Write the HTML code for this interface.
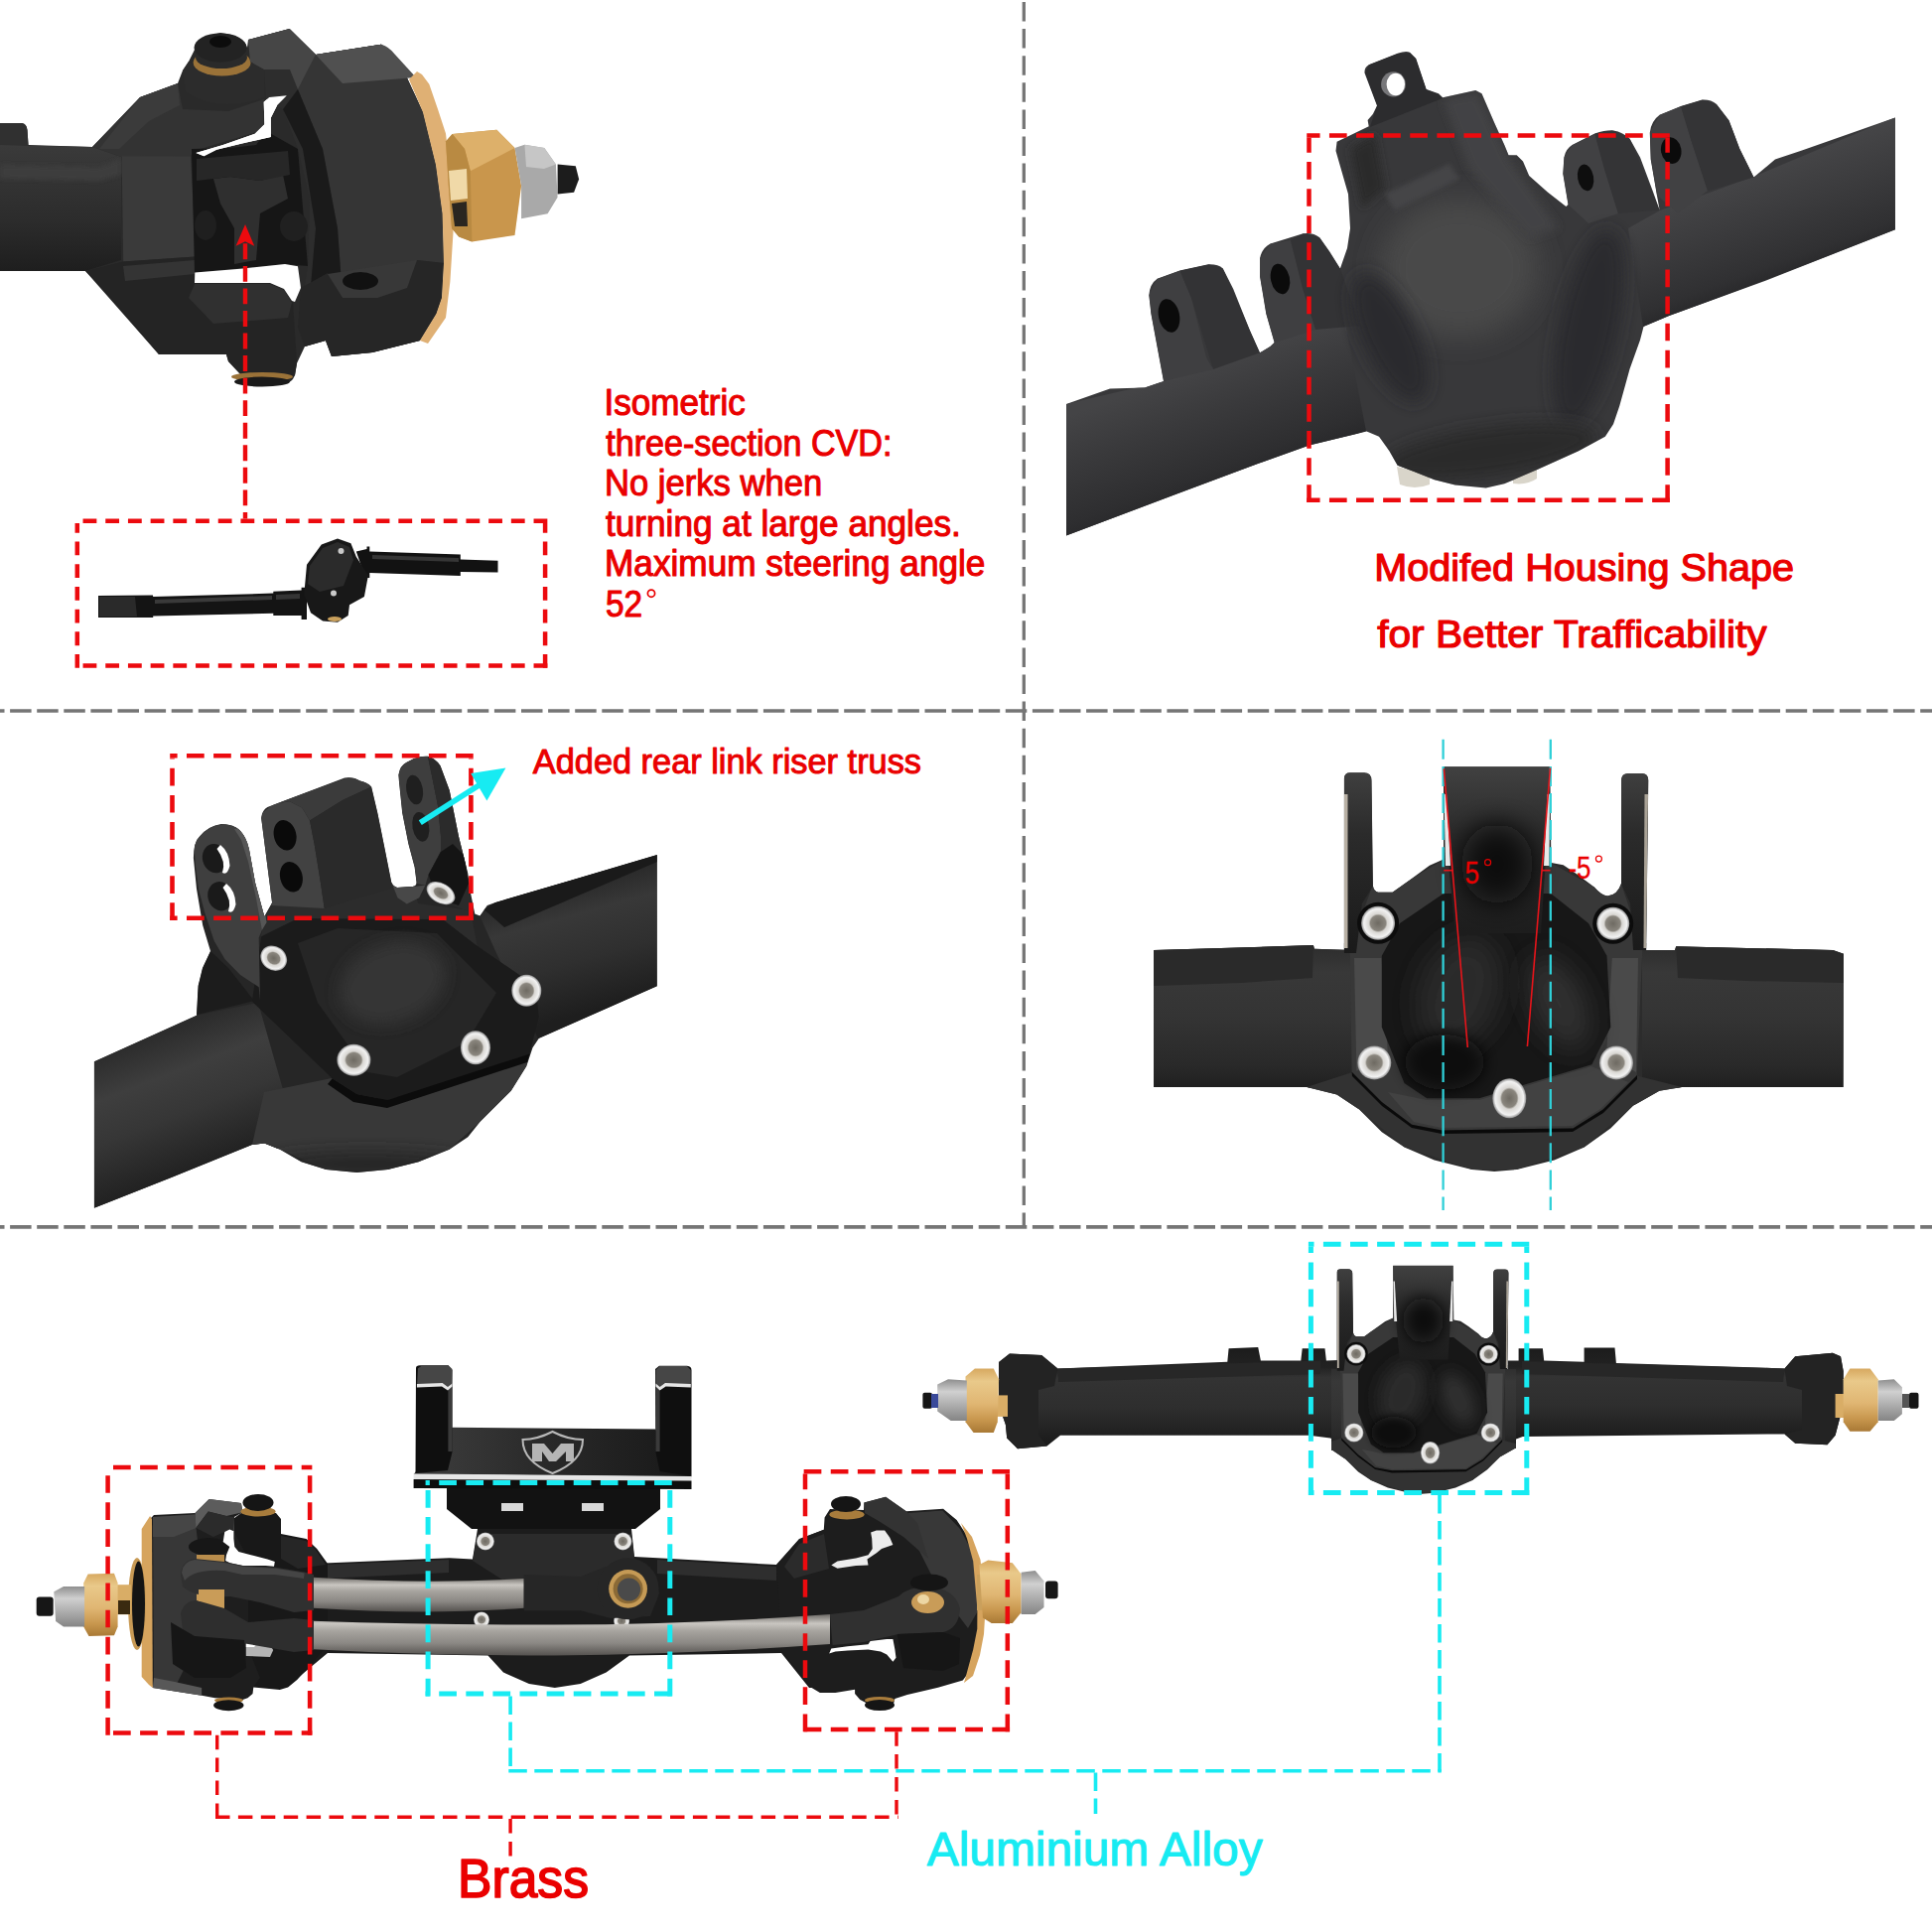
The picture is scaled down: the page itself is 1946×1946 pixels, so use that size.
<!DOCTYPE html>
<html><head><meta charset="utf-8"><title>axle</title>
<style>
html,body{margin:0;padding:0;background:#fff;}
body{width:1946px;height:1946px;overflow:hidden;font-family:"Liberation Sans",sans-serif;}
svg{display:block;}
text{font-family:"Liberation Sans",sans-serif;}
</style></head><body>
<svg width="1946" height="1946" viewBox="0 0 1946 1946">
<rect width="1946" height="1946" fill="#fff"/>

<defs>
<filter id="b2" x="-20%" y="-20%" width="140%" height="140%"><feGaussianBlur stdDeviation="2"/></filter>
<filter id="b4" x="-40%" y="-40%" width="180%" height="180%"><feGaussianBlur stdDeviation="4"/></filter>
<filter id="b8" x="-60%" y="-60%" width="220%" height="220%"><feGaussianBlur stdDeviation="8"/></filter>
<filter id="b14" x="-80%" y="-80%" width="260%" height="260%"><feGaussianBlur stdDeviation="14"/></filter>
<linearGradient id="brassV" x1="0" y1="0" x2="0" y2="1"><stop offset="0" stop-color="#e2b774"/><stop offset="0.5" stop-color="#cf9f58"/><stop offset="1" stop-color="#a97a3a"/></linearGradient>
<linearGradient id="tube1" x1="0" y1="0" x2="0" y2="1"><stop offset="0" stop-color="#3a3a3a"/><stop offset="0.25" stop-color="#343434"/><stop offset="0.6" stop-color="#2c2c2c"/><stop offset="1" stop-color="#1e1e1e"/></linearGradient>
</defs>

<g id="p1"><!-- main silhouette -->
<path d="M0 124 L22 124 Q27 125 27.5 131 L28.5 146 L93 148 L141 98 L179 84 L184 71 L190 62 L196 50 Q198 38 222 33 Q246 36 249 48 L250 40 L291.6 29 L318 55 L384 44.7 Q398 55 406 70 L426 113 L439 166 L445.6 215 L447 265 L445 300 L439.5 316 L423 343 L375 355 L334 359 L328 343 L307 349 L299 366 L297 378 Q294 386 286 386.5 L257 387.5 Q249 386 245 380 L230 364 L228 357 L160 357 L100 287 L86 273 L0 273 Z" fill="#2a2a2a"/>
<!-- tube -->
<path d="M0 146 L93 148 L122 158 L122 262 L86 273 L0 273 Z" fill="url(#tube1)"/>
<path d="M0 124 L22 124 Q27 125 27.5 131 L28.5 146 L0 146 Z" fill="#303030"/>
<path d="M0 166 L100 168 L122 160 L122 176 L100 182 L0 180 Z" fill="#3e3e3e" filter="url(#b2)"/>
<!-- c-hub upper arm -->
<path d="M93 148 L141 98 L179 84 L184 110 L230 112 L266 100 L265 131 L215 146 L195 152 L192 157 L122 158 Z" fill="#333333"/>
<path d="M141 98 L179 84 L181 106 L150 122 L120 150 L100 150 Z" fill="#3b3b3b"/>
<!-- c-hub face -->
<path d="M122.6 157.3 L192.1 157.3 L197 258.4 L124.2 263.4 Z" fill="#3a3a3a"/>
<!-- c-hub lower -->
<path d="M86 273 L124 263.4 L197 258.4 L196 285 L272 285 L286 291 L295 304 L299 366 L297 378 L286 386.5 L257 387.5 L245 380 L230 364 L228 357 L160 357 Z" fill="#242424"/>
<path d="M124 268 L196 262 L196 276 L126 283 Z" fill="#343434"/>
<path d="M196 286 L272 286 L286 292 L294 305 L290 320 L215 326 L190 300 Z" fill="#303030"/>
<!-- cvd interior dark -->
<path d="M193 150 L232 149 L258 146 L268 132 L300 150 L310 268 L287 266 L245 270 L196 274.5 Z" fill="#161616"/>
<path d="M215 180 L232 178 L262 182 L285 176 L290 200 L262 215 L258 262 L236 266 L236 230 L222 205 Z" fill="#2f2f2f"/>
<path d="M198 160 L290 152 L292 176 L262 182 L232 178 L198 182 Z" fill="#272727"/>
<ellipse cx="207" cy="227" rx="11" ry="15" fill="#1f1f1f"/><ellipse cx="296" cy="228" rx="14" ry="15" fill="#202020"/>
<!-- white gaps -->
<path d="M196.3 274.5 L245 270.4 L287 266 L300 268.3 L303 290 L297 304 L294 303 L286 291 L272 285 L196 285 Z" fill="#fff"/>
<path d="M197.4 154 L224.6 146 L256.7 134.8 L266.4 125.2 L265.7 102.7 L271.2 97.9 L288.8 96.3 L279.2 105.9 L272.8 118.7 L272.8 138 L243.9 144.4 L218.2 150.8 L205.4 157.2 Z" fill="#fff"/>
<!-- top boss -->
<path d="M184 71 L190 62 Q222 78 252 62 L266 70 L266.7 97.7 L258 101 Q215 112 187 92.8 Z" fill="#2c2c2c"/>
<ellipse cx="223.6" cy="63" rx="29" ry="13.5" fill="#9a7238"/>
<ellipse cx="223" cy="58" rx="26" ry="11" fill="#2a2a2a"/>
<ellipse cx="222" cy="48" rx="26.5" ry="14.5" fill="#232323"/>
<ellipse cx="222" cy="42" rx="11" ry="6" fill="#0c0c0c"/>
<!-- knuckle -->
<path d="M250 40 L291.6 29 L318 55 L384 44.7 Q398 55 406 70 L426 113 L439 166 L445.6 215 L447 265 L445 300 L439.5 316 L423 343 L375 355 L334 359 L328 343 L307 349 L300 330 L310 268 L312 200 L300 150 L285 110 L268 100 L266 70 L252 62 Z" fill="#2d2d2d"/>
<path d="M318 55 L384 44.7 Q398 55 406 70 L426 113 L439 166 L445.6 215 L447 265 L420 262 L380 300 L345 300 L340 230 L325 150 L300 90 Z" fill="#353535"/>
<path d="M250 40 L291.6 29 L318 55 L300 90 L292 70 L266 70 L252 62 Z" fill="#464646"/>
<path d="M318 55 L384 44.7 Q392 47 398 55 L419 78 L345 84 L330 68 Z" fill="#505050"/>
<path d="M300 90 L325 150 L340 230 L345 300 L335 318 L312 300 L318 230 L305 150 L285 110 Z" fill="#1a1a1a"/>
<path d="M307 349 L300 330 L303 290 L330 275 L345 300 L380 300 L420 262 L447 265 L445 300 L439.5 316 L423 343 L375 355 L334 359 L328 343 Z" fill="#262626"/>
<path d="M330 276 L420 262 L410 290 L380 300 L345 300 Z" fill="#383838"/>
<ellipse cx="363" cy="283" rx="18" ry="9" fill="#111"/>
<!-- brass plate -->
<path d="M420 72 L425 75 L432.3 84.8 L441 110 L449 134.5 L454.7 184.2 L456.5 233.9 L453.4 283.6 L449 320 L431 346 L423 343 L439.5 316 L445 300 L447 265 L445.6 215 L439 166 L426 113 L412 80 Z" fill="#dfb074"/>
<!-- hex nut -->
<path d="M449 142.4 L455.6 135 L500.3 130.8 L518.5 149 L525.1 187.2 L518.5 236.9 L475.4 243.5 L462.2 238.5 L455 230 L452 190 Z" fill="#c9964c"/>
<path d="M455.6 135 L500.3 130.8 L518.5 149 L473.8 172.3 L468 150 Z" fill="#ddb06a"/>
<path d="M449 142.4 L455.6 135 L468 150 L473.8 172.3 L475.4 243.5 L462.2 238.5 L455 230 L452 190 Z" fill="#b98a42"/>
<path d="M452 172 L470 170 L471 200 L454 202 Z" fill="#f0d9a8"/>
<path d="M455 205 L470 203 L471 228 L458 228 Z" fill="#2a2620"/>
<!-- lock nut -->
<path d="M518.5 149 L528.4 145.8 L548.3 149 L559.9 165.6 L561.6 198.8 L551.6 215.3 L525.1 220.3 L525.1 187.2 Z" fill="#a9a9a9"/>
<path d="M528.4 145.8 L548.3 149 L559.9 165.6 L548 170 L530 168 Z" fill="#c6c6c6"/>
<path d="M561.6 165.6 L579.8 167.3 L583.1 180.5 L578.1 193.8 L561.6 195.4 Z" fill="#1c1c1c"/>
<!-- gap redraw + bottom screw -->
<path d="M197.4 154 L224.6 146 L256.7 134.8 L266.4 125.2 L265.7 102.7 L271.2 97.9 L288.8 96.3 L279.2 105.9 L272.8 118.7 L272.8 138 L243.9 144.4 L218.2 150.8 L205.4 157.2 Z" fill="#fff"/>
<ellipse cx="264" cy="379.5" rx="31" ry="4.5" fill="#9a7238"/><ellipse cx="264" cy="384.5" rx="28" ry="5" fill="#1a1a1a"/>
<!-- CVD shaft -->
<g>
<path d="M99 600 L154 599.5 L154.2 601 L275.3 597.6 L275.3 595.7 L303.6 594.4 L303.6 591.7 L309 591.7 L309 624 L303.6 624 L303.6 620 L275.3 620 L275.3 617.8 L154.2 620.5 L154.2 622.1 L99 622.1 Z" fill="#141414"/>
<path d="M100 601 L136 601 L138 621 L100 621 Z" fill="#2a2a2a"/>
<path d="M156 604 L274 600 L274 604 L156 608 Z" fill="#3a3a3a"/>
<path d="M278 599 L302 598 L302 603 L278 604 Z" fill="#353535"/>
<path d="M358.8 555.4 L369.5 553 L369.5 550.5 L372.3 550.5 L372.3 555.4 L463.8 558.6 L463.8 563.4 L501.5 564.8 L501.5 576.4 L463.8 576.1 L463.8 580.1 L372.3 576.9 L372.3 582 L368 582 Z" fill="#121212"/>
<path d="M375 559 L462 562 L462 566 L375 563 Z" fill="#363636"/>
<path d="M309 568.8 L323.8 548.6 L340 542.4 L353.4 547.3 L358.8 560.8 L370.9 579.6 L366.9 601.1 L352 609.2 L350.7 620 L340 626.7 L325.1 625.4 L313 617.3 L306.3 598.4 Z" fill="#181818"/>
<path d="M312 570 L325 552 L340 546 L352 551 L356 564 L346 590 L322 596 L310 588 Z" fill="#2b2b2b"/>
<circle cx="343.5" cy="555" r="3" fill="#c9c9c9"/><circle cx="336" cy="597.5" r="3" fill="#c9c9c9"/>
<ellipse cx="337" cy="623.5" rx="7" ry="2.5" fill="#c9a05c"/>
</g>
</g>
<g id="p2"><defs>
<clipPath id="p2clip"><path id="p2sil" d="M1074 407 L1118 391.5 L1153 390.5 L1172 384 L1159.4 316 L1157.3 297.3 Q1158 286 1165.6 280.7 L1188.4 272.5 L1217.3 266.3 Q1227 266 1231.8 270.4 L1242.2 291 L1258.8 332.5 L1269 355.3 L1279.5 349 L1283.6 345 L1275.3 316 L1269.1 278.7 L1269.1 260 Q1271 250 1279.5 245.5 L1312.6 235.2 Q1323 234 1329.2 239.3 L1339.5 253.8 L1349.9 270.4 L1357 250 L1360 230 L1358 195.6 L1345.5 152 L1346.6 142.8 L1378.7 127.3 L1377.6 121 L1382.8 115 L1387 106.6 L1374.5 73.5 Q1374 68 1378.7 65.2 L1407.7 53.8 Q1416 51 1420 52.8 L1426.3 59 L1436.6 90 L1449 94.2 L1453.2 98.3 L1486.3 91.1 L1492.5 94.2 L1505 123.2 L1515.3 146 L1519.5 156.3 L1527.7 156.3 L1534 162.5 L1540.2 177 L1558.8 193.6 L1577.4 208 L1579.5 206 L1574.3 175 L1575.4 158.4 Q1577 150 1583.6 146 L1606.4 134.6 Q1617 131 1625 131.4 Q1635 133 1641.6 139.7 L1652 158.4 L1664.4 191.5 L1671.6 211.6 L1668.9 196.4 L1662.7 160.6 L1661.8 133.7 Q1663 122 1671.6 115.8 L1693 107 L1714.6 100.6 Q1723 100 1729 105 L1741.5 121.2 L1752.2 149.8 L1766.5 178.5 L1788 160.6 L1815 151.6 L1908.9 118.5 L1908.9 231.3 L1779 282.4 L1680.6 318.2 L1655.5 329 L1652 342.4 L1641.6 371.4 L1631.3 408.7 L1625 427.3 L1616.8 439.7 L1589.9 454.2 L1548.4 472.9 L1515.3 487.3 L1496.7 491.5 L1465.6 488.4 L1444.9 483.2 L1424.2 474.9 L1407.7 468.7 L1399.4 454.2 L1389 439.7 L1376.6 434.6 L1318.8 448.4 L1267 467 L1184 498 L1074 539.5 Z"/></clipPath>
<linearGradient id="p2tl" gradientUnits="userSpaceOnUse" x1="1180" y1="380" x2="1225" y2="500"><stop offset="0" stop-color="#444446"/><stop offset="0.35" stop-color="#3a3a3c"/><stop offset="0.8" stop-color="#2e2e30"/><stop offset="1" stop-color="#262628"/></linearGradient>
<linearGradient id="p2tr" gradientUnits="userSpaceOnUse" x1="1760" y1="170" x2="1800" y2="280"><stop offset="0" stop-color="#464648"/><stop offset="0.4" stop-color="#3c3c3e"/><stop offset="0.85" stop-color="#303032"/><stop offset="1" stop-color="#28282a"/></linearGradient>
</defs>
<!-- bolts under -->
<path d="M1407 470 L1440 478 L1440 488 Q1425 494 1410 488 Z" fill="#d9d5ca"/>
<path d="M1524 477 L1548 470 L1548 482 Q1538 489 1524 487 Z" fill="#d9d5ca"/>
<use href="#p2sil" fill="#38383a"/>
<g clip-path="url(#p2clip)">
<!-- left tube -->
<path d="M1074 407 L1172 384 L1269 355 L1350 300 L1376 434 L1074 540 Z" fill="url(#p2tl)"/>
<!-- right tube -->
<path d="M1766 178 L1909 118 L1909 232 L1655 329 L1640 230 L1672 212 Z" fill="url(#p2tr)"/>
<!-- lugs front faces lighter -->
<path d="M1172 384 L1159.4 316 L1157.3 297.3 L1165.6 280.7 L1188.4 272.5 L1200 300 L1215 360 L1222 372 Z" fill="#3f3f41"/>
<path d="M1283.6 345 L1275.3 316 L1269.1 278.7 L1269.1 260 L1279.5 245.5 L1300 242 L1312 290 L1325 332 Z" fill="#3f3f41"/>
<path d="M1188.4 272.5 L1217.3 266.3 L1231.8 270.4 L1269 355.3 L1222 372 L1200 300 Z" fill="#333335"/>
<path d="M1300 242 L1312.6 235.2 L1329.2 239.3 L1349.9 270.4 L1370 328 L1325 332 L1312 290 Z" fill="#333335"/>
<ellipse cx="1177.5" cy="318" rx="10.5" ry="17" transform="rotate(-12 1177.5 318)" fill="#0b0b0b"/>
<ellipse cx="1289.5" cy="281" rx="9.5" ry="15.5" transform="rotate(-12 1289.5 281)" fill="#0b0b0b"/>
<path d="M1579.5 206 L1574.3 175 L1575.4 158.4 L1583.6 146 L1606.4 134.6 L1616 170 L1630 215 L1600 225 Z" fill="#414143"/>
<path d="M1606.4 134.6 L1625 131.4 L1641.6 139.7 L1671.6 211.6 L1630 215 L1616 170 Z" fill="#343436"/>
<path d="M1668.9 196.4 L1662.7 160.6 L1661.8 133.7 L1671.6 115.8 L1693 107 L1703 140 L1720 192 L1690 215 Z" fill="#414143"/>
<path d="M1693 107 L1714.6 100.6 L1729 105 L1741.5 121.2 L1766.5 178.5 L1720 192 L1703 140 Z" fill="#343436"/>
<ellipse cx="1597.1" cy="179" rx="8" ry="13.5" transform="rotate(-10 1597 179)" fill="#0e0e0e"/>
<ellipse cx="1683.3" cy="151.6" rx="10.2" ry="13.4" transform="rotate(-10 1683 152)" fill="#0b0b0b"/>
<!-- housing ball shading -->
<ellipse cx="1470" cy="270" rx="80" ry="70" fill="#48484a" filter="url(#b14)"/>
<ellipse cx="1400" cy="340" rx="28" ry="70" fill="#2b2b2d" filter="url(#b8)" transform="rotate(-25 1400 340)"/>
<ellipse cx="1600" cy="330" rx="30" ry="100" fill="#2c2c2e" filter="url(#b8)" transform="rotate(12 1600 330)"/>
<ellipse cx="1500" cy="455" rx="110" ry="25" fill="#2a2a2c" filter="url(#b8)" transform="rotate(-8 1500 455)"/>
<path d="M1360 150 L1385 135 L1395 190 L1372 210 Z" fill="#2a2a2c" filter="url(#b4)"/>
<path d="M1395 195 L1460 165 L1470 180 L1405 212 Z" fill="#454547" filter="url(#b2)"/>
<path d="M1453 100 L1488 93 L1520 160 L1570 230 L1540 240 L1480 170 Z" fill="#424244" filter="url(#b4)"/>
<path d="M1387 106 L1375 73 L1379 65 L1408 54 L1420 53 L1426 59 L1437 90 L1449 95 L1453 99 L1380 128 Z" fill="#2c2c2e"/>
</g>
<ellipse cx="1403.5" cy="84.9" rx="12.4" ry="12.6" fill="#77777a"/>
<ellipse cx="1405.8" cy="85" rx="9.2" ry="11.2" fill="#fff"/>
</g>
<g id="p3"><defs>
<clipPath id="p3clip"><path id="p3sil" d="M94.9 1069.3 L198 1022.7 L199.6 993 L204 975 L212 958 L204.2 932 L198 895.3 L194.9 864.2 Q195 848 201.1 842.5 Q210 832 222.9 830.1 Q235 830 241.5 836.3 Q248 843 250.8 854.9 L257 889.1 L266.3 923.2 L274.1 909.3 L263.2 823.9 Q264 816 269.4 813 L347.1 783.5 Q356 782 362.6 786.6 Q370 788 374.1 792.4 L380.3 818.8 L388.1 857.6 L394.3 888.7 Q396 893 400 894 L416 893 Q420 892 419.5 888 L417.6 873.2 L411.4 849.9 L405.2 818.8 L402 787.8 L401.4 780.4 Q403 771 409.2 768 Q420 761 430.9 761.7 Q439 764 443.4 771.1 L452.7 795.9 L462 842.5 L471.3 879.8 L473.2 895.5 L478.3 920.4 L483.5 922.5 L487.7 916.3 L490.8 912.1 L499 909 L580 885.2 L661.7 861 L661.7 993.2 L542.7 1046 L536.5 1055.3 L530.3 1073.9 L514.8 1098.8 L483.7 1129.8 L471.3 1145.3 L452.7 1157.8 L421.6 1170.2 L390.6 1178 L359.5 1181.1 L328.4 1178 L303.6 1170.2 L281.9 1157.8 L266.3 1151.6 L253.9 1153.1 L173.2 1185.7 L94.9 1216.8 Z"/></clipPath>
<linearGradient id="p3tl" gradientUnits="userSpaceOnUse" x1="150" y1="1045" x2="200" y2="1175"><stop offset="0" stop-color="#2c2c2c"/><stop offset="0.3" stop-color="#3e3e3e"/><stop offset="0.6" stop-color="#363636"/><stop offset="1" stop-color="#222"/></linearGradient>
<linearGradient id="p3tr" gradientUnits="userSpaceOnUse" x1="590" y1="885" x2="625" y2="1010"><stop offset="0" stop-color="#282828"/><stop offset="0.25" stop-color="#383838"/><stop offset="0.6" stop-color="#2f2f2f"/><stop offset="1" stop-color="#1e1e1e"/></linearGradient>
<radialGradient id="bolt"><stop offset="0" stop-color="#6e6a62"/><stop offset="0.45" stop-color="#8a867e"/><stop offset="0.55" stop-color="#d8d6d2"/><stop offset="0.85" stop-color="#f2f2f2"/><stop offset="1" stop-color="#8d8d8d"/></radialGradient>
</defs>
<use href="#p3sil" fill="#262626"/>
<g clip-path="url(#p3clip)">
<path d="M94.9 1069.3 L198 1022.7 L260 1010 L300 1150 L94.9 1217 Z" fill="url(#p3tl)"/>
<path d="M483 922 L499 909 L662 861 L662 994 L542 1046 L500 960 Z" fill="url(#p3tr)"/>
<path d="M487.7 916.3 L499 909 L662 861 L662 868 L508 934 Z" fill="#1a1a1a"/>
<!-- housing lower ball -->
<path d="M253.9 1153.1 L266 1100 L334 1086 L390 1110 L533 1062 L530 1074 L514.8 1098.8 L483.7 1129.8 L452.7 1157.8 L390.6 1178 L328.4 1178 L281.9 1157.8 Z" fill="#383838"/>
<ellipse cx="370" cy="1172" rx="100" ry="12" fill="#262626" filter="url(#b8)"/>
<!-- housing back -->
<path d="M198 1022 L199.6 993 L204 975 L212 958 L230 975 L256 1008 L240 1012 Z" fill="#1c1c1c"/>
<!-- cover plate -->
<path d="M263.2 943.5 L300 925 L446 926 L480.6 952.8 L539.6 993.2 L542.7 1024.2 L533.4 1061.5 L421.6 1098.8 L390.6 1108 L359.5 1101.9 L334.7 1086.3 L253.9 1008.7 Z" fill="#1b1b1b"/>
<path d="M300 950 L340 935 L440 940 L500 1000 L470 1050 L400 1085 L370 1080 L320 1010 Z" fill="#262626"/>
<ellipse cx="395" cy="990" rx="55" ry="40" fill="#353535" filter="url(#b8)" transform="rotate(-20 395 990)"/>
<path d="M334.7 1086.3 L359.5 1101.9 L390.6 1108 L533.4 1061.5 L531 1070 L390 1116 L356 1110 L330 1092 Z" fill="#0c0c0c"/>
<!-- truss base -->
<path d="M266 923 L274 909 L328 914 L400 889 L417 892 L421 910 L474 917 L480.6 952.8 L446 926 L300 925 L263 943 Z" fill="#2c2c2c"/>
<!-- left tab -->
<path d="M195.5 853 L198.6 842.1 L211.1 832.8 L226.6 829.7 L240.6 834.3 L249.9 846.8 L256.1 867 L262.3 898 L267 919.8 L268.5 929 L263.9 936.8 L260.7 944.6 L262 1008 L260.7 994.3 L242.1 981.9 L226.6 966.3 L215.7 947.7 L206.4 919.8 L200.2 896.5 L197.1 873.2 Z" fill="#3f3f3f"/>
<path d="M240.6 834.3 L249.9 846.8 L256.1 867 L262.3 898 L267 919.8 L268.5 929 L263.9 936.8 L258 905 L250 868 L243 846 L236 835 Z" fill="#565656"/>
<!-- center block -->
<path d="M260.7 831.2 L263.9 818.8 L276.3 809.5 L291.8 807.2 L304.2 813.4 L312 826.6 L316.6 849.9 L322.9 888.7 L326.7 915.1 L273.2 912 L268.5 888.7 L263.9 857.6 Z" fill="#424242"/>
<path d="M276.3 809.5 L350.8 783.1 L363.2 783.9 L374.1 792.4 L345 806 L312 826.6 L304.2 813.4 L291.8 807.2 Z" fill="#3b3b3b"/>
<path d="M312 826.6 L345 806 L374.1 792.4 L380.3 818.8 L388.1 857.6 L394.3 888.7 L399.9 893 L326.7 915.1 L322.9 888.7 L316.6 849.9 Z" fill="#2a2a2a"/>
<!-- right tab -->
<path d="M401.4 780.4 Q403 771 409.2 768 Q420 761 430.9 761.7 L434.7 780 L440.9 811 L444 842.1 L444 857.6 L431.6 880.9 L428.4 891.8 L419.5 890 L417.6 873.2 L411.4 849.9 L405.2 818.8 L402 787.8 Z" fill="#3e3e3e"/>
<path d="M394.3 888.7 L400 894 L416 893 L428.4 891.8 L422.2 904.2 L409.8 910.4 L400.5 904.2 Z" fill="#484848"/>
<path d="M430.9 761.7 Q439 764 443.4 771.1 L453.3 780 L459.5 811 L467.3 857.6 L471.9 888.7 L475 919.8 L478 921 L440 905 L431.6 880.9 L444 857.6 L444 842.1 L440.9 811 L434.7 780 Z" fill="#2b2b2b"/>
<path d="M444 858 L456 850 L468 862 L472 890 L462 912 L440 905 L431.6 880.9 Z" fill="#141414"/>
</g>
<!-- holes -->
<ellipse cx="216.5" cy="864.6" rx="12.5" ry="14.8" transform="rotate(-15 216.5 864.6)" fill="#1a1a1a"/><path d="M222 851 Q231 858 231.5 872 Q229 882 224 879 Q228 868 218.5 855 Z" fill="#fff"/>
<ellipse cx="221.9" cy="902.7" rx="12.5" ry="14.8" transform="rotate(-15 221.9 902.7)" fill="#1a1a1a"/><path d="M228 890 Q237 897 237.5 911 Q235 921 230 918 Q234 907 224.5 894 Z" fill="#fff"/>
<ellipse cx="287.1" cy="841.3" rx="11.2" ry="15.5" transform="rotate(-14 287.1 841.3)" fill="#0a0a0a"/>
<ellipse cx="293.4" cy="883.3" rx="11.2" ry="15.5" transform="rotate(-14 293.4 883.3)" fill="#0a0a0a"/>
<ellipse cx="417.6" cy="795.5" rx="8.3" ry="15" transform="rotate(-10 417.6 795.5)" fill="#1f1f1f"/>
<ellipse cx="423.8" cy="832.8" rx="8.3" ry="15" transform="rotate(-10 423.8 832.8)" fill="#1f1f1f"/>
<!-- bolts -->
<ellipse cx="444" cy="899.6" rx="15.5" ry="10" transform="rotate(30 444 899.6)" fill="url(#bolt)"/>
<ellipse cx="275.7" cy="965.2" rx="14" ry="12" transform="rotate(35 275.7 965.2)" fill="url(#bolt)"/>
<ellipse cx="530.3" cy="997.8" rx="15" ry="16" fill="url(#bolt)"/>
<ellipse cx="479" cy="1055.3" rx="15" ry="17" fill="url(#bolt)"/>
<ellipse cx="356.4" cy="1067.7" rx="17" ry="16" fill="url(#bolt)"/>
</g>
<g id="p4"><defs>
<clipPath id="p4clip"><path id="p4sil" d="M1162 957 L1322.9 952.1 L1323.9 955.7 L1353.9 956.7 L1353.9 784 Q1354 778.2 1360 778.2 L1374 778.2 Q1381.5 778.5 1381.5 786 L1382.9 892.5 Q1384 898 1388.1 898.7 L1402.6 898.7 L1417.1 888.4 L1439.9 871.8 L1454 865.6 L1454 772.2 L1561.3 772.2 L1562.4 869.1 L1574.6 871.3 L1588 880.2 L1605.8 893.5 Q1613 902 1619.2 902.4 Q1629 902 1633 890 L1633 786 Q1633 779 1640 778.9 L1654 778.9 Q1660.3 779 1660.3 786 L1658.1 957 L1687 957 L1688.2 953.2 L1846.2 957 L1856.9 960.8 L1856.6 1094.9 L1694.1 1094.9 L1671.4 1098.7 L1645 1113.8 L1622.3 1136.5 L1595.8 1155.4 L1565.6 1168.6 L1527.8 1178 L1505.2 1180 L1482.5 1178 L1444.7 1168.6 L1414.5 1155.4 L1391.8 1140.3 L1369.1 1117.6 L1346.5 1102.5 L1316.3 1094.9 L1162.1 1094.9 Z"/></clipPath>
<linearGradient id="p4t" x1="0" y1="0" x2="0" y2="1"><stop offset="0" stop-color="#2c2c2c"/><stop offset="0.2" stop-color="#383838"/><stop offset="0.5" stop-color="#343434"/><stop offset="0.85" stop-color="#292929"/><stop offset="1" stop-color="#1f1f1f"/></linearGradient>
<linearGradient id="p4tab" gradientUnits="userSpaceOnUse" x1="0" y1="775" x2="0" y2="960"><stop offset="0" stop-color="#404040"/><stop offset="0.35" stop-color="#2b2b2b"/><stop offset="1" stop-color="#1a1a1a"/></linearGradient>
</defs>
<use href="#p4sil" fill="#2c2c2c"/>
<g clip-path="url(#p4clip)">
<rect x="1162" y="950" width="200" height="146" fill="url(#p4t)"/>
<rect x="1654" y="950" width="204" height="146" fill="url(#p4t)"/>
<path d="M1162 957 L1322.9 952.1 L1322 985 L1250 990 L1162 993 Z" fill="#2a2a2a"/>
<path d="M1688.2 953.2 L1846.2 957 L1856.9 960.8 L1857 990 L1760 988 L1690 985 Z" fill="#2a2a2a"/>
<!-- lower housing -->
<path d="M1316 1095 L1362 1080 L1392 1110 L1422 1133 L1452 1138.4 L1584.5 1136.5 L1614.7 1117.6 L1648.8 1083.6 L1694 1095 L1645 1113.8 L1595.8 1155.4 L1527.8 1178 L1482.5 1178 L1414.5 1155.4 L1369.1 1117.6 Z" fill="#323232"/>
<!-- cover flange -->
<path d="M1359.7 955 L1361.6 1079.8 L1391.8 1110 L1422 1132.7 L1452.3 1138.4 L1584.5 1136.5 L1614.7 1117.6 L1648.8 1083.6 L1654.4 955 L1633 890 L1605 893 L1562 869 L1454 866 L1417 888 L1382 893 Z" fill="#383838"/>
<path d="M1362 1084 L1392 1114 L1422 1136 L1452 1142 L1584 1140 L1615 1121 L1649 1087 L1649 1083 L1614.7 1117.6 L1584.5 1136.5 L1452.3 1138.4 L1422 1132.7 L1391.8 1110 L1361.6 1079.8 Z" fill="#0a0a0a"/>
<path d="M1364 965 L1391.5 965 L1398 1063 L1366.4 1078.8 Z" fill="#4a4a4a"/><path d="M1623.8 965 L1650 965 L1648 1080 L1618 1063 Z" fill="#4a4a4a"/><path d="M1398 1100 L1437 1108 L1490 1108 L1603 1074 L1640 1090 L1612 1117 L1584 1134 L1452 1136 L1424 1130 Z" fill="#424242"/>
<!-- dome -->
<path d="M1391.8 962.7 L1391.8 1034.5 L1414.5 1091.1 L1437.2 1106.3 L1490 1106.3 L1603.4 1072.2 L1622.3 1034.5 L1618.5 962.7 L1600 930 L1562 900 L1454 900 L1410 930 Z" fill="#171717"/>
<ellipse cx="1470" cy="1000" rx="40" ry="60" fill="#2c2c2c" filter="url(#b14)" transform="rotate(20 1470 1000)"/>
<ellipse cx="1570" cy="1010" rx="25" ry="50" fill="#303030" filter="url(#b14)" transform="rotate(-25 1570 1010)"/>
<ellipse cx="1455" cy="1070" rx="40" ry="28" fill="#0d0d0d" filter="url(#b8)"/>
<!-- tabs -->
<path d="M1353.9 784 Q1354 778.2 1360 778.2 L1374 778.2 Q1381.5 778.5 1381.5 786 L1382.9 892.5 L1372 910 L1366 960 L1353.9 960 Z" fill="url(#p4tab)"/>
<path d="M1353.9 800 L1357.5 800 L1357.5 955 L1353.9 955 Z" fill="#b8b0a4"/>
<path d="M1633 786 Q1633 779 1640 778.9 L1654 778.9 Q1660.3 779 1660.3 786 L1658.1 957 L1645 957 L1642 910 L1633 890 Z" fill="url(#p4tab)"/>
<path d="M1656.5 800 L1660 800 L1658.5 955 L1655.5 955 Z" fill="#a9a296"/>
<!-- center block -->
<path d="M1454 772.2 L1561.3 772.2 L1556 880 L1552 940 L1466 940 L1460 880 Z" fill="url(#p4tab)"/>

<ellipse cx="1508" cy="870" rx="36" ry="40" fill="#101010" filter="url(#b14)"/>
</g>
<!-- white slivers -->
<path d="M1454.5 800 L1457 800 L1461 872 L1456 872 Z" fill="#e8e8e8"/>
<path d="M1561 800 L1558.5 800 L1555 872 L1560.5 872 Z" fill="#e8e8e8"/>
<!-- bolts -->
<circle cx="1388.1" cy="929.8" r="21" fill="#0c0c0c"/><circle cx="1624.7" cy="930.3" r="20.5" fill="#0c0c0c"/>
<circle cx="1388.1" cy="929.8" r="17" fill="url(#bolt)"/><circle cx="1624.7" cy="930.3" r="16.5" fill="url(#bolt)"/>
<circle cx="1384.3" cy="1070.4" r="17" fill="url(#bolt)"/><circle cx="1628" cy="1070.4" r="17" fill="url(#bolt)"/>
<ellipse cx="1520.3" cy="1106.3" rx="17" ry="20" fill="url(#bolt)"/>
</g>
<g id="p5"><defs>
<linearGradient id="steel" x1="0" y1="0" x2="0" y2="1"><stop offset="0" stop-color="#6d6a66"/><stop offset="0.22" stop-color="#c9c6c1"/><stop offset="0.4" stop-color="#a7a49f"/><stop offset="0.7" stop-color="#8b8884"/><stop offset="1" stop-color="#55524f"/></linearGradient>
<linearGradient id="plate" x1="0" y1="0" x2="1" y2="0"><stop offset="0" stop-color="#3e3e3e"/><stop offset="0.45" stop-color="#2a2a2a"/><stop offset="1" stop-color="#181818"/></linearGradient>
</defs>
<!-- axle tube behind -->
<path d="M300 1580 L326 1574.5 L452.7 1569.3 L476 1570.6 L481 1540 L636 1540 L639 1568 L662.3 1569.3 L782 1576 L805 1550 L830 1540.7 L840 1700 L815 1700 L787 1665 L634 1667.6 L610.6 1684.5 L584.7 1696.1 L558.8 1700 L532.9 1696.1 L507 1684.5 L491.5 1667.6 L330 1665 L300 1690 Z" fill="#1c1c1c"/>
<path d="M326 1576 L452 1571 L452 1584 L326 1590 Z" fill="#2e2e2e"/>
<path d="M662 1571 L782 1578 L782 1592 L662 1585 Z" fill="#2e2e2e"/>
<path d="M481 1545 L636 1545 L639 1570 L600 1600 L520 1600 L476 1572 Z" fill="#2b2b2b"/>
<!-- servo mount under -->
<path d="M450 1495 L665 1495 L665 1520 L640 1540 L475 1540 L450 1520 Z" fill="#121212"/>
<rect x="505" y="1514" width="22" height="8" fill="#d8d8d8"/><rect x="586" y="1514" width="22" height="8" fill="#d8d8d8"/>
<!-- plate -->
<path d="M455.5 1437.8 L660 1439.5 L696.5 1487.5 L416.6 1485 Z" fill="url(#plate)"/>
<path d="M416.6 1484.5 L696.5 1487 L696.5 1491.5 L416.6 1490 Z" fill="#e6e6e6"/>
<path d="M416.6 1490 L696.5 1491.5 L696.5 1500 L416.6 1499 Z" fill="#0e0e0e"/>
<!-- posts -->
<path d="M419 1378 Q419 1375.2 423 1375.2 L451.3 1375.2 L455.5 1379.9 L455.5 1462.7 L451 1481 L418.5 1484 Z" fill="#0f0f0f"/>
<path d="M421 1378.3 L425.7 1375 L451.4 1375 L455.5 1379.1 L455 1394 L451 1398 L445.6 1394.4 L420 1395.2 Z" fill="#464646"/><path d="M451.4 1398 L455.5 1394 L455.5 1462 L451.4 1462 Z" fill="#3a3a3a"/>
<path d="M419.9 1394 L445.6 1393 L451 1397 L455.5 1393.5 L455.5 1396.5 L451 1400.5 L445 1396.5 L419.9 1397.5 Z" fill="#e6e6e6"/>
<path d="M660 1379 L664 1375.7 L692 1375.7 Q696.5 1376 696.5 1380 L696.5 1487 L664.6 1482 L660.5 1462.7 Z" fill="#0f0f0f"/>
<path d="M660.5 1380 L664.5 1376 L692 1376 L695.8 1380 L695.8 1395 L670 1394.4 L664.6 1398 L660.5 1394 Z" fill="#464646"/><path d="M660.5 1394 L664.6 1398 L664.6 1462 L660.5 1462 Z" fill="#3a3a3a"/>
<path d="M660.5 1393.5 L664.6 1397 L670 1393 L695.8 1394 L695.8 1397.5 L670.6 1396.5 L664.6 1400.5 L660.5 1396.5 Z" fill="#e6e6e6"/>
<!-- logo -->
<path d="M526.5 1450 Q541 1450 556.5 1442 Q572 1450 587 1450 Q587 1472 556.5 1484 Q526.5 1472 526.5 1450 Z" fill="none" stroke="#b9b9b9" stroke-width="2"/>
<path d="M536 1472 L536 1454 L548 1454 L556.5 1464 L565 1454 L578 1454 L578 1472 L570 1472 L570 1462 L560 1472 L553 1472 L546 1462 L546 1472 Z" fill="#b5b5b5"/>
<!-- bolts center -->
<circle cx="488.9" cy="1552.5" r="9" fill="url(#bolt)"/><circle cx="627.4" cy="1552.5" r="9" fill="url(#bolt)"/>
<circle cx="485" cy="1631.4" r="8" fill="url(#bolt)"/><circle cx="626.1" cy="1632.7" r="8" fill="url(#bolt)"/>

<!-- LEFT KNUCKLE -->
<!-- c-hub -->
<path d="M235.4 1542 L236 1529 L243 1524 L278 1524 L283 1530 L283 1545 L308.6 1550 L319.2 1560 L330 1575 L330 1660 L324.9 1663.1 L310.8 1679.6 L299.2 1692 L290.1 1699.5 L281.8 1702 L255.3 1699.5 L240 1690 L236 1600 Z" fill="#181818"/>
<path d="M283 1547 L308 1552 L318 1561 L328 1576 L300 1580 L283 1570 Z" fill="#262626"/>
<!-- knuckle disc -->
<path d="M151.1 1530 L155 1526 L196.5 1524 L210.6 1509.9 L242.9 1514.1 L244.5 1523.2 L236 1528 L235.4 1542 L250 1570 L250 1660 L262 1690 L255.3 1699.5 L254.5 1706.1 L249.5 1710.3 L244.5 1711.9 L216.4 1710.3 L203.1 1707.8 L175.8 1703.6 L153.8 1700 L151 1690 Z" fill="#1e1e1e"/>
<path d="M154 1528 L196.5 1525.5 L197.5 1539 L200 1560 L196 1660 L176 1700 L155 1697 Z" fill="#373737"/>
<path d="M154 1528 L196.5 1525.5 L197.5 1539 L175 1548 L154 1548 Z" fill="#464646"/>
<path d="M196.5 1524 L210.6 1509.9 L242.9 1514.1 L244.5 1523.2 L228 1527 L209.8 1522.4 L197.3 1538.9 Z" fill="#5c5c5c"/>
<path d="M209.8 1522.4 L228 1527 L236 1528 L235.4 1542 L226 1543 L215 1548 L197.3 1538.9 Z" fill="#2b2b2b"/>
<path d="M155 1690 L176 1694 L203.1 1700 L203.1 1707.8 L175.8 1703.6 L153.8 1700 Z" fill="#585858"/>
<!-- brass plate -->
<path d="M142.7 1540 L151.1 1527 L153 1530 L153.8 1700 L150 1697 L142.7 1689 Z" fill="#d6a45e"/>
<ellipse cx="138" cy="1615.5" rx="9" ry="46.5" fill="#c89a55"/><ellipse cx="139.5" cy="1615.5" rx="6.5" ry="43" fill="#141414"/>
<!-- nuts -->
<rect x="118" y="1596.2" width="14" height="30" fill="#d9ad66"/><rect x="119" y="1612" width="12" height="14" fill="#3a2a10"/>
<path d="M84.2 1594.4 L88.6 1585.6 L115 1584.7 L118.6 1594.4 L118.6 1638.4 L115 1647.2 L89.5 1648.1 L84.2 1638.4 Z" fill="url(#brassH)"/>
<path d="M54.3 1603.2 L64 1597.9 L85.1 1597.9 L85.1 1638.4 L64 1638.4 L56.1 1633.1 Z" fill="url(#silvH)"/>
<rect x="36.7" y="1608.5" width="17" height="19.3" rx="3" fill="#161616"/>
<!-- top & bottom screws -->
<ellipse cx="260" cy="1522.5" rx="17.6" ry="5" fill="#a87c3c"/><ellipse cx="260" cy="1513.5" rx="15.5" ry="8.5" fill="#151515"/>
<ellipse cx="230.5" cy="1712.5" rx="14.5" ry="3" fill="#a87c3c"/><ellipse cx="230.3" cy="1717.7" rx="15.2" ry="5.5" fill="#151515"/>
<!-- steering stack -->
<ellipse cx="210.6" cy="1558" rx="20.7" ry="9" fill="#171717"/>
<rect x="198" y="1566" width="28" height="14" fill="#b98d4c"/><rect x="198" y="1601" width="28" height="22" fill="#c99c58"/><rect x="201" y="1647" width="23" height="8" fill="#c99c58"/>
<!-- gap A white -->
<path d="M226.3 1543.1 L231.3 1540.6 L235.4 1542.2 L235.4 1549.7 L236.3 1558 L240.4 1562.9 L252.8 1566.3 L269.4 1570.4 L276.8 1572.9 L276 1577.8 L267.7 1577 L244.5 1577 L232.1 1574.5 L227.1 1572 L228 1566.3 L231.3 1558 L224.7 1553 Z" fill="#fff"/>
<!-- gap B light piece -->
<path d="M247.8 1655.6 L272 1657 L275.2 1662 L272 1668.9 L247.8 1668 Z" fill="#b4b4b4"/><path d="M247.8 1655 L259 1655.5 L256 1659 L247.8 1659 Z" fill="#fff"/>

<!-- RIGHT KNUCKLE -->
<path d="M782.2 1576 L805.1 1550.4 L829.8 1540.7 L830.6 1528.4 L836 1520 L870 1521 L870.4 1513.5 L892.1 1507.8 L912.8 1522.3 L950.1 1519.7 L963.6 1531.1 L976 1549.7 L982.2 1572.5 L986.4 1620.8 L986.3 1640.7 L982.2 1661.4 L976 1684.2 L969.8 1692.5 L944.9 1699.7 L913.9 1707 L901.4 1711.1 L900 1716 L872.5 1715.2 L866.3 1712.1 L861.1 1705.9 L861.1 1701.8 L841.4 1704.9 L825.9 1704.9 L815.5 1698.7 L800 1678 L787.5 1664.8 Z" fill="#1d1d1d"/>
<path d="M913.4 1524 L949.4 1521.5 L967 1540 L977.6 1560 L984.6 1586 L986 1620.8 L975 1640 L945 1600 L925 1560 Z" fill="#383838"/>
<path d="M870.4 1513.5 L892.1 1507.8 L912.8 1522.3 L924.2 1534.2 L935 1570 L910 1548 L885 1532 L871 1524 Z" fill="#333"/>
<path d="M805 1555 L830 1545 L835 1580 L800 1590 L790 1578 Z" fill="#2b2b2b"/>
<path d="M968 1534 L979 1548 L987.5 1571 L992.5 1620.8 L991 1646 L987 1667 L980 1688 L971 1695 L974 1684.2 L980.2 1661.4 L984.3 1640.7 L984.4 1620.8 L980.2 1572.5 L974 1549.7 Z" fill="#d6a45e"/>
<!-- white gaps right -->
<path d="M837.3 1576.6 L843.5 1572.5 L862.1 1569.4 L874.5 1566.3 L878.7 1560 L878.2 1549.7 L877.1 1543.5 L882.8 1541.4 L891.1 1541.4 L896.3 1548.7 L899.4 1555.9 L888 1560 L882.8 1564.2 L873.5 1570.4 L874.5 1576.6 L862.1 1577.1 L843.5 1579.7 Z" fill="#ececec"/>
<path d="M837.3 1660.4 L853.8 1658.3 L874.5 1656.2 L876.6 1653.1 L893.2 1651.1 L899.4 1651.1 L901.4 1661.4 L902.5 1669.7 L899.4 1673.8 L893.2 1666.6 L887 1663.5 L874.5 1661.4 L853.8 1662.4 L841.4 1663.5 L835.2 1665.5 Z" fill="#fff"/>
<!-- right nuts -->
<rect x="984" y="1586" width="12" height="36" fill="#caa05c"/>
<path d="M986.4 1576 L995.2 1571.5 L1019.8 1574.2 L1028.6 1585.6 L1028.6 1624.3 L1019.8 1634.9 L998.7 1634.9 L989.9 1629.6 Z" fill="url(#brassH)"/>
<path d="M1028.6 1583.8 L1042.7 1582.1 L1051.5 1592.6 L1051.5 1619 L1042.7 1626.1 L1028.6 1626.1 Z" fill="url(#silvH)"/>
<rect x="1053" y="1592.6" width="12.6" height="17.6" rx="3" fill="#161616"/>
<ellipse cx="853" cy="1525.5" rx="17.6" ry="5" fill="#a87c3c"/><ellipse cx="852" cy="1515" rx="15" ry="8" fill="#151515"/>
<ellipse cx="886" cy="1712.5" rx="15" ry="3.5" fill="#a87c3c"/><ellipse cx="886" cy="1717.5" rx="15" ry="5.5" fill="#151515"/>

<!-- STEEL RODS -->
<path d="M315.5 1588.7 Q430 1596 527.7 1590 L527.7 1619.8 Q430 1627 315.5 1619.8 Z" fill="url(#steel)"/>
<path d="M315.5 1632.7 Q430 1636.5 558.8 1636.6 Q700 1636 836 1626.1 L836 1656 Q700 1666 558.8 1667.6 Q430 1667.5 315.5 1661.2 Z" fill="url(#steel)"/>
<!-- rod end center -->
<path d="M527.7 1586 L584.7 1588 L610 1578 L660 1585 L664 1605 L655 1628 L615 1630 L584.7 1622.3 L527.7 1622.3 Z" fill="#262626"/>
<circle cx="632.6" cy="1600.3" r="31" fill="#262626"/>
<circle cx="632.6" cy="1600.3" r="19.4" fill="#c59a55"/><circle cx="632.6" cy="1600.3" r="15" fill="#8b6a36"/><circle cx="633.5" cy="1601" r="11.6" fill="#4a4a4a"/>
<!-- left rod ends -->
<path d="M182 1586 Q183 1572 196 1570 L226 1573 L244.5 1577 L277.7 1578.7 L306.6 1583.6 L316 1586 L316 1622 L296 1624 L262 1614 L232 1608 Q196 1610 184 1598 Z" fill="#303030"/>
<path d="M183 1584 Q184 1573 196 1571 L226 1574 L244.5 1578 L277.7 1579.7 L306.6 1584.6 L306 1590 L277 1586 L244 1586 L226 1582 Q196 1580 186 1592 Z" fill="#454545"/>
<path d="M182 1625 Q186 1612 198 1612 L226 1620 L250 1634 L296 1630 L316 1632 L316 1662 L296 1664 L250 1656 L226 1652 Q196 1652 184 1642 Z" fill="#2e2e2e"/>
<rect x="200" y="1601" width="26" height="12" fill="#c99c58"/>
<!-- left lower arm -->
<path d="M172 1634 L196 1648 L246 1652 L248 1680 L232 1690 L196 1690 L174 1676 Z" fill="#161616"/>
<!-- right rod end -->
<path d="M835.9 1626.1 L870 1622 L905 1608 Q915 1598 935 1598 Q962 1600 967 1620 Q966 1640 950 1644 L905 1646 L870 1654 L838.6 1657 Z" fill="#303030"/>
<ellipse cx="936" cy="1594" rx="19" ry="8.5" fill="#151515"/>
<ellipse cx="934.5" cy="1614" rx="16.5" ry="11" fill="#c99c58"/><ellipse cx="930" cy="1611" rx="6" ry="5" fill="#ecd6a4"/>
<path d="M903.7 1646 L950 1644 L967 1650 L966 1676 L950 1683 L910 1680 Z" fill="#161616"/>
</g>
<g id="p6"><defs>
<clipPath id="p6c"><rect x="1341" y="1262" width="186" height="250"/></clipPath>
<linearGradient id="p6t" x1="0" y1="0" x2="0" y2="1"><stop offset="0" stop-color="#1c1c1c"/><stop offset="0.2" stop-color="#222"/><stop offset="0.3" stop-color="#333"/><stop offset="0.6" stop-color="#2e2e2e"/><stop offset="1" stop-color="#181818"/></linearGradient>
<linearGradient id="brassH" x1="0" y1="0" x2="0" y2="1"><stop offset="0" stop-color="#d7a85f"/><stop offset="0.2" stop-color="#e9c98a"/><stop offset="0.55" stop-color="#e0b673"/><stop offset="0.8" stop-color="#c8974e"/><stop offset="1" stop-color="#a97935"/></linearGradient>
<linearGradient id="silvH" x1="0" y1="0" x2="0" y2="1"><stop offset="0" stop-color="#8e8e8e"/><stop offset="0.3" stop-color="#d0d0d0"/><stop offset="0.6" stop-color="#b0b0b0"/><stop offset="1" stop-color="#858585"/></linearGradient>
</defs>
<!-- left tube -->
<path d="M1006.1 1372 L1016.9 1363.6 L1049.2 1365 L1065.4 1378.4 L1236.3 1371.7 L1237.6 1358.3 L1267.2 1356.9 L1269.9 1370.4 L1310.3 1370.4 L1311.7 1358.3 L1334.5 1358.3 L1335.9 1370.4 L1348 1370 L1348 1452 L1339.9 1448.4 L1318.4 1445.7 L1068 1445.7 L1054.6 1456.5 L1025 1459.2 L1014.2 1448.4 L1012.9 1435 L1006 1415 Z" fill="url(#p6t)"/>
<path d="M1065.4 1378.4 L1330 1370.4 L1330 1384 L1066 1392 Z" fill="#272727"/>
<path d="M1006.1 1372 L1016.9 1363.6 L1049.2 1365 L1065.4 1378.4 L1062 1396 L1046 1400 L1046 1445 L1054.6 1456.5 L1025 1459.2 L1014.2 1448.4 L1012.9 1435 L1006 1415 Z" fill="#232323"/>
<!-- right tube -->
<path d="M1518.9 1370.4 L1529.6 1370.4 L1529.6 1358.3 L1553.9 1358.3 L1555.2 1370.4 L1595.6 1371.7 L1595.6 1357.4 L1626.5 1357.4 L1627.9 1373 L1797.5 1378.4 L1808.2 1366.3 L1845.9 1362.8 L1854 1366.3 L1856.7 1381.1 L1856.7 1415 L1848.6 1445.7 L1840.5 1455.2 L1808.2 1453.8 L1797.5 1444.4 L1533.7 1447.1 L1518.9 1452.5 Z" fill="url(#p6t)"/>
<path d="M1533 1371 L1797.5 1378.4 L1796 1392 L1533 1384 Z" fill="#272727"/>
<path d="M1797.5 1378.4 L1808.2 1366.3 L1845.9 1362.8 L1854 1366.3 L1856.7 1381.1 L1856.7 1415 L1848.6 1445.7 L1840.5 1455.2 L1808.2 1453.8 L1797.5 1444.4 L1815 1440 L1815 1400 L1800 1396 Z" fill="#232323"/>
<!-- diff (scaled copy of p4) -->
<g clip-path="url(#p6c)"><use href="#p4" transform="translate(583.1 839.3) scale(0.564)"/></g>
<!-- nuts left -->
<rect x="1004" y="1405.4" width="11" height="21.5" fill="#d9ad66"/>
<path d="M972.5 1386.5 L981.9 1378.4 L1000.8 1378.4 L1006.1 1389.2 L1004.8 1432.3 L1000.8 1443 L980.6 1443 L972.5 1432.3 Z" fill="url(#brassH)"/>
<path d="M944.2 1394.6 L955 1389.2 L973.8 1390.6 L973.8 1431 L957.7 1431 L944.2 1421.5 Z" fill="url(#silvH)"/>
<rect x="929.4" y="1402.7" width="9.6" height="16" rx="2" fill="#161616"/><rect x="938" y="1404" width="7" height="14" fill="#3a4a9a"/>
<!-- nuts right -->
<rect x="1848.6" y="1404" width="12" height="24" fill="#d9ad66"/>
<path d="M1856.7 1389.2 L1863.4 1378.4 L1883.6 1378.4 L1891.7 1389.2 L1891.7 1432.3 L1883.6 1441.7 L1863.4 1441.7 L1856.7 1432.3 Z" fill="url(#brassH)"/>
<path d="M1891.7 1390.6 L1907.8 1389.2 L1915.9 1397.3 L1915.9 1424.2 L1907.8 1430.9 L1891.7 1430.9 Z" fill="url(#silvH)"/>
<rect x="1923" y="1402.7" width="9.5" height="16" rx="2" fill="#161616"/><rect x="1916" y="1404" width="7" height="14" fill="#555"/>
</g>
<g fill="none">
<line x1="1031.30" y1="0.00" x2="1031.30" y2="1236.00" stroke="#757575" stroke-width="3.3" stroke-dasharray="19.5 7.6" stroke-dashoffset="25.10"/>
<line x1="0.00" y1="716.00" x2="1946.00" y2="716.00" stroke="#757575" stroke-width="3.6" stroke-dasharray="21.5 5.6" stroke-dashoffset="17.00"/>
<line x1="0.00" y1="1235.90" x2="1946.00" y2="1235.90" stroke="#757575" stroke-width="3.6" stroke-dasharray="21.5 5.6" stroke-dashoffset="17.00"/>
<line x1="75.55" y1="524.80" x2="551.35" y2="524.80" stroke="#ec0a0e" stroke-width="4.5" stroke-dasharray="13.8 8.9" stroke-dashoffset="14.70"/>
<line x1="75.55" y1="670.60" x2="551.35" y2="670.60" stroke="#ec0a0e" stroke-width="4.5" stroke-dasharray="13.8 8.9" stroke-dashoffset="14.70"/>
<line x1="77.80" y1="527.05" x2="77.80" y2="672.85" stroke="#ec0a0e" stroke-width="4.5" stroke-dasharray="13.8 8.9" stroke-dashoffset="4.20"/>
<line x1="549.10" y1="527.05" x2="549.10" y2="672.85" stroke="#ec0a0e" stroke-width="4.5" stroke-dasharray="13.8 8.9" stroke-dashoffset="4.20"/>
<line x1="247.00" y1="522.50" x2="247.00" y2="243.00" stroke="#ec0a0e" stroke-width="4.4" stroke-dasharray="15.9 6.65" stroke-dashoffset="9.35"/>
<path d="M247 225.9 L256.2 247.8 L247 243.2 L237.6 247.8 Z" fill="#ec0a0e"/>
<line x1="1316.25" y1="136.50" x2="1681.85" y2="136.50" stroke="#ec0a0e" stroke-width="4.5" stroke-dasharray="17.7 9.4" stroke-dashoffset="4.40"/>
<line x1="1316.25" y1="503.70" x2="1681.85" y2="503.70" stroke="#ec0a0e" stroke-width="4.5" stroke-dasharray="17.7 9.4" stroke-dashoffset="4.40"/>
<line x1="1318.50" y1="138.75" x2="1318.50" y2="505.95" stroke="#ec0a0e" stroke-width="4.5" stroke-dasharray="17.7 9.4" stroke-dashoffset="2.80"/>
<line x1="1679.60" y1="138.75" x2="1679.60" y2="505.95" stroke="#ec0a0e" stroke-width="4.5" stroke-dasharray="17.7 9.4" stroke-dashoffset="2.80"/>
<line x1="171.20" y1="761.20" x2="476.70" y2="761.20" stroke="#ec0a0e" stroke-width="4.6" stroke-dasharray="17.7 9.4" stroke-dashoffset="10.30"/>
<line x1="171.20" y1="924.70" x2="476.70" y2="924.70" stroke="#ec0a0e" stroke-width="4.6" stroke-dasharray="17.7 9.4" stroke-dashoffset="10.30"/>
<line x1="173.50" y1="763.50" x2="173.50" y2="927.00" stroke="#ec0a0e" stroke-width="4.6" stroke-dasharray="17.7 9.4" stroke-dashoffset="16.80"/>
<line x1="474.40" y1="763.50" x2="474.40" y2="927.00" stroke="#ec0a0e" stroke-width="4.6" stroke-dasharray="17.7 9.4" stroke-dashoffset="16.80"/>
<line x1="423.3" y1="828.6" x2="492" y2="784.8" stroke="#17ebf2" stroke-width="5.6"/>
<path d="M509.4 773.5 L474.2 778.9 L490.4 806.6 Z" fill="#17ebf2"/>
<line x1="1453.6" y1="744.8" x2="1453.6" y2="1219" stroke="#2fd0d8" stroke-width="2.3" stroke-dasharray="20 7.1"/>
<line x1="1561.8" y1="744.8" x2="1561.8" y2="1219" stroke="#2fd0d8" stroke-width="2.3" stroke-dasharray="20 7.1"/>
<line x1="1454.3" y1="774.3" x2="1478.3" y2="1055" stroke="#e8141a" stroke-width="1.6"/>
<line x1="1561.5" y1="773.5" x2="1538.4" y2="1054" stroke="#e8141a" stroke-width="1.6"/>
<line x1="1454.3" y1="876.7" x2="1463.7" y2="876.7" stroke="#e8141a" stroke-width="1.6"/>
<line x1="1553" y1="876.7" x2="1561.5" y2="876.7" stroke="#e8141a" stroke-width="1.6"/>

<line x1="106.35" y1="1478.10" x2="314.35" y2="1478.10" stroke="#ec0a0e" stroke-width="4.5" stroke-dasharray="17.7 9.4" stroke-dashoffset="19.45"/>
<line x1="106.35" y1="1745.50" x2="314.35" y2="1745.50" stroke="#ec0a0e" stroke-width="4.5" stroke-dasharray="17.7 9.4" stroke-dashoffset="19.45"/>
<line x1="108.60" y1="1480.35" x2="108.60" y2="1747.75" stroke="#ec0a0e" stroke-width="4.5" stroke-dasharray="17.7 9.4" stroke-dashoffset="21.30"/>
<line x1="312.10" y1="1480.35" x2="312.10" y2="1747.75" stroke="#ec0a0e" stroke-width="4.5" stroke-dasharray="17.7 9.4" stroke-dashoffset="21.30"/>
<line x1="808.75" y1="1482.20" x2="1017.05" y2="1482.20" stroke="#ec0a0e" stroke-width="4.5" stroke-dasharray="17.7 9.4" stroke-dashoffset="26.20"/>
<line x1="808.75" y1="1741.90" x2="1017.05" y2="1741.90" stroke="#ec0a0e" stroke-width="4.5" stroke-dasharray="17.7 9.4" stroke-dashoffset="26.20"/>
<line x1="811.00" y1="1484.45" x2="811.00" y2="1744.15" stroke="#ec0a0e" stroke-width="4.5" stroke-dasharray="17.7 9.4" stroke-dashoffset="1.90"/>
<line x1="1014.80" y1="1484.45" x2="1014.80" y2="1744.15" stroke="#ec0a0e" stroke-width="4.5" stroke-dasharray="17.7 9.4" stroke-dashoffset="1.90"/>
<line x1="428.60" y1="1493.40" x2="677.30" y2="1493.40" stroke="#17ebf2" stroke-width="5" stroke-dasharray="17.7 9.4" stroke-dashoffset="13.46"/>
<line x1="428.60" y1="1705.90" x2="677.30" y2="1705.90" stroke="#17ebf2" stroke-width="5" stroke-dasharray="17.7 9.4" stroke-dashoffset="13.46"/>
<line x1="431.10" y1="1495.90" x2="431.10" y2="1708.40" stroke="#17ebf2" stroke-width="5" stroke-dasharray="17.7 9.4" stroke-dashoffset="22.00"/>
<line x1="674.80" y1="1495.90" x2="674.80" y2="1708.40" stroke="#17ebf2" stroke-width="5" stroke-dasharray="17.7 9.4" stroke-dashoffset="22.00"/>
<line x1="1317.90" y1="1253.30" x2="1540.30" y2="1253.30" stroke="#17ebf2" stroke-width="5" stroke-dasharray="17.7 9.4" stroke-dashoffset="12.10"/>
<line x1="1317.90" y1="1503.40" x2="1540.30" y2="1503.40" stroke="#17ebf2" stroke-width="5" stroke-dasharray="17.7 9.4" stroke-dashoffset="12.10"/>
<line x1="1320.40" y1="1255.80" x2="1320.40" y2="1505.90" stroke="#17ebf2" stroke-width="5" stroke-dasharray="17.7 9.4" stroke-dashoffset="11.50"/>
<line x1="1537.80" y1="1255.80" x2="1537.80" y2="1505.90" stroke="#17ebf2" stroke-width="5" stroke-dasharray="17.7 9.4" stroke-dashoffset="11.50"/>
<line x1="218.70" y1="1747.70" x2="218.70" y2="1832.00" stroke="#ec0a0e" stroke-width="3.4" stroke-dasharray="14.5 8.4" stroke-dashoffset="0.00"/>
<line x1="903.00" y1="1744.20" x2="903.00" y2="1832.00" stroke="#ec0a0e" stroke-width="3.4" stroke-dasharray="14.5 8.4" stroke-dashoffset="0.00"/>
<line x1="217.00" y1="1830.30" x2="904.70" y2="1830.30" stroke="#ec0a0e" stroke-width="3.4" stroke-dasharray="14.5 8.4" stroke-dashoffset="0.00"/>
<line x1="514.10" y1="1832.00" x2="514.10" y2="1870.00" stroke="#ec0a0e" stroke-width="3.4" stroke-dasharray="14.5 8.4" stroke-dashoffset="0.00"/>
<line x1="514.10" y1="1708.40" x2="514.10" y2="1785.60" stroke="#17ebf2" stroke-width="3.6" stroke-dasharray="18.5 7.5" stroke-dashoffset="0.00"/>
<line x1="1450.00" y1="1505.90" x2="1450.00" y2="1785.60" stroke="#17ebf2" stroke-width="3.6" stroke-dasharray="18.5 7.5" stroke-dashoffset="0.00"/>
<line x1="512.30" y1="1783.80" x2="1451.80" y2="1783.80" stroke="#17ebf2" stroke-width="3.6" stroke-dasharray="18.5 7.5" stroke-dashoffset="0.00"/>
<line x1="1103.50" y1="1785.60" x2="1103.50" y2="1827.00" stroke="#17ebf2" stroke-width="3.6" stroke-dasharray="18.5 7.5" stroke-dashoffset="0.00"/>
</g>
<text x="608.60" y="418.30" font-size="36.5" textLength="142.17" lengthAdjust="spacingAndGlyphs" fill="#ea0000" stroke="#ea0000" stroke-width="1.1" stroke-linejoin="round">Isometric</text>
<text x="610.20" y="458.60" font-size="36.5" textLength="288.24" lengthAdjust="spacingAndGlyphs" fill="#ea0000" stroke="#ea0000" stroke-width="1.1" stroke-linejoin="round">three-section CVD:</text>
<text x="609.00" y="498.70" font-size="36.5" textLength="219.18" lengthAdjust="spacingAndGlyphs" fill="#ea0000" stroke="#ea0000" stroke-width="1.1" stroke-linejoin="round">No jerks when</text>
<text x="610.00" y="539.70" font-size="36.5" textLength="357.83" lengthAdjust="spacingAndGlyphs" fill="#ea0000" stroke="#ea0000" stroke-width="1.1" stroke-linejoin="round">turning at large angles.</text>
<text x="609.00" y="580.00" font-size="36.5" textLength="383.43" lengthAdjust="spacingAndGlyphs" fill="#ea0000" stroke="#ea0000" stroke-width="1.1" stroke-linejoin="round">Maximum steering angle</text>
<text x="610.00" y="621.00" font-size="36.5" textLength="37.12" lengthAdjust="spacingAndGlyphs" fill="#ea0000" stroke="#ea0000" stroke-width="1.1" stroke-linejoin="round">52</text>
<text x="1384.20" y="584.70" font-size="38.6" textLength="422.84" lengthAdjust="spacingAndGlyphs" fill="#ea0000" stroke="#ea0000" stroke-width="1.2" stroke-linejoin="round">Modifed Housing Shape</text>
<text x="1387.20" y="652.20" font-size="38.6" textLength="392.40" lengthAdjust="spacingAndGlyphs" fill="#ea0000" stroke="#ea0000" stroke-width="1.2" stroke-linejoin="round">for Better Trafficability</text>
<text x="536.80" y="779.20" font-size="34.6" textLength="391.20" lengthAdjust="spacingAndGlyphs" fill="#ea0000" stroke="#ea0000" stroke-width="1.0" stroke-linejoin="round">Added rear link riser truss</text>
<text x="461.00" y="1911.30" font-size="55.5" textLength="131.97" lengthAdjust="spacingAndGlyphs" fill="#ea0000" stroke="#ea0000" stroke-width="1.7" stroke-linejoin="round">Brass</text>
<text x="933.80" y="1879.20" font-size="47.2" textLength="337.80" lengthAdjust="spacingAndGlyphs" fill="#17ebf2" stroke="#17ebf2" stroke-width="1.1" stroke-linejoin="round">Aluminium Alloy</text>
<g fill="none" stroke="#ea0000">
<circle cx="656" cy="597.7" r="3.6" stroke-width="1.7"/>
<circle cx="1498.6" cy="868.7" r="3" stroke-width="1.2"/>
<circle cx="1610.4" cy="865.1" r="3" stroke-width="1.2"/></g>
<g fill="#ea0000" stroke="#ea0000" stroke-width="0.3">
<text x="1475.5" y="890" font-size="31.5" textLength="14.5" lengthAdjust="spacingAndGlyphs">5</text>
<text x="1579.5" y="885.3" font-size="31.5" textLength="23" lengthAdjust="spacingAndGlyphs">-5</text></g>
</svg></body></html>
